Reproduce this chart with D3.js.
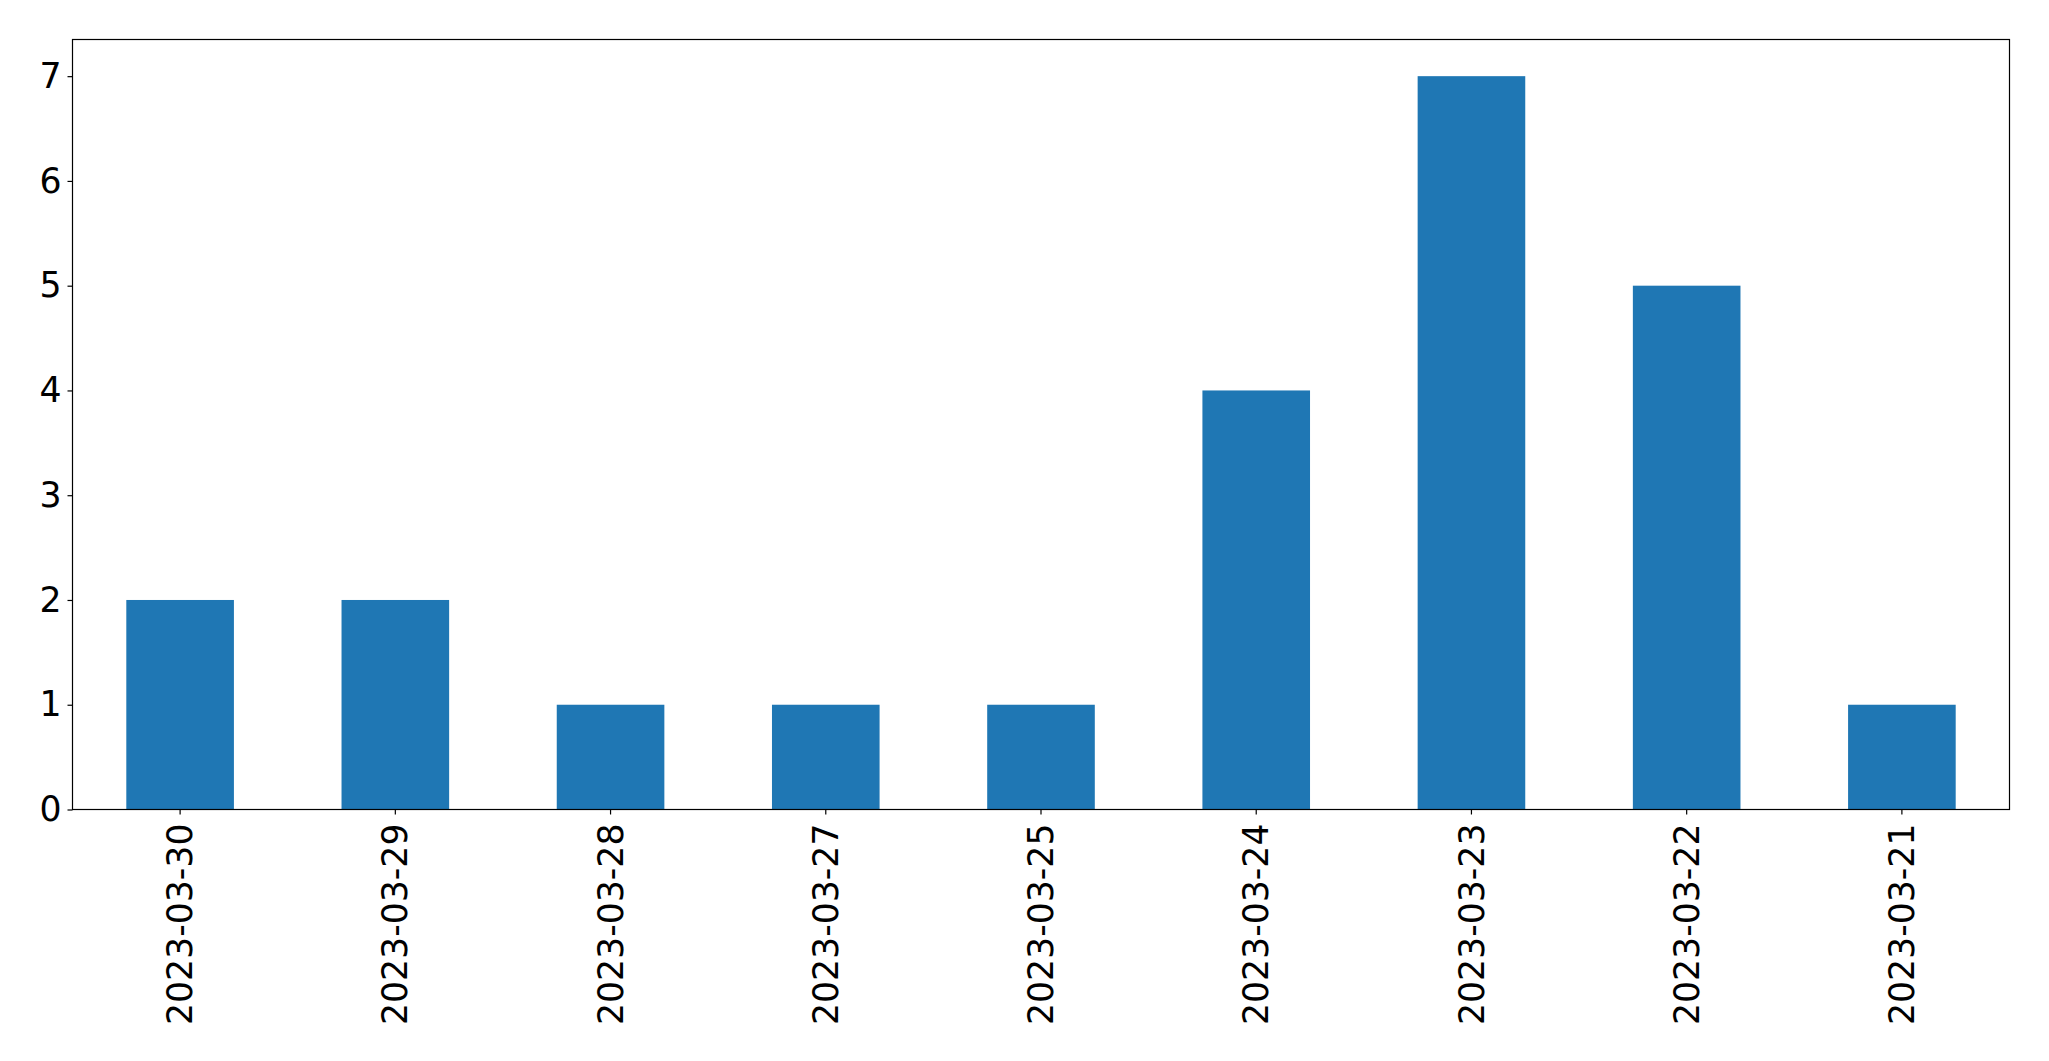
<!DOCTYPE html>
<html><head><meta charset="utf-8">
<script src="https://cdn.jsdelivr.net/npm/d3@7"></script>
<style>body{margin:0;background:#fff}svg{display:block}text{font-family:"DejaVu Sans",sans-serif}</style>
</head><body>
<script>
const categories = ["2023-03-30","2023-03-29","2023-03-28","2023-03-27","2023-03-25","2023-03-24","2023-03-23","2023-03-22","2023-03-21"];
const counts = [2,2,1,1,1,4,7,5,1];
const yTicks = [0,1,2,3,4,5,6,7];

const W = 2049, H = 1061;
const m = {left:72.5, right:2049-2009.5, top:39.5, bottom:1061-809.5};
const svg = d3.select("body").append("svg").attr("width",W).attr("height",H);
const x = d3.scaleBand().domain(categories).range([m.left, W-m.right]).paddingInner(0.5).paddingOuter(0.25);
const y = d3.scaleLinear().domain([0, d3.max(counts)*1.05]).range([H-m.bottom, m.top]);

svg.append("g").selectAll("rect").data(categories).join("rect")
  .attr("x", d=>x(d)).attr("width", x.bandwidth())
  .attr("y", (d,i)=>y(counts[i])).attr("height", (d,i)=>y(0)-y(counts[i]))
  .attr("fill","#1f77b4");

const fs = 34.7;
const yAxis = svg.append("g").attr("transform",`translate(${m.left},0)`)
  .call(d3.axisLeft(y).tickValues(yTicks).tickFormat(d3.format("d")).tickSize(5).tickPadding(6));
yAxis.select(".domain").remove();
yAxis.selectAll("text").attr("font-size",fs).attr("fill","#000").attr("font-family","DejaVu Sans");
yAxis.selectAll("line").attr("stroke","#000").attr("stroke-width",1.2);

const xAxis = svg.append("g").attr("transform",`translate(0,${H-m.bottom})`)
  .call(d3.axisBottom(x).tickSize(5).tickPadding(0));
xAxis.select(".domain").remove();
xAxis.selectAll("line").attr("stroke","#000").attr("stroke-width",1.2);
xAxis.selectAll("text").attr("font-size",fs).attr("fill","#000").attr("font-family","DejaVu Sans")
  .attr("transform","rotate(-90)").attr("text-anchor","end").attr("dy","0.35em").attr("x",-14).attr("y",0);

svg.append("rect").attr("x",m.left).attr("y",m.top).attr("width",W-m.left-m.right).attr("height",H-m.top-m.bottom)
  .attr("fill","none").attr("stroke","#000").attr("stroke-width",1.2);
</script>
</body></html>
